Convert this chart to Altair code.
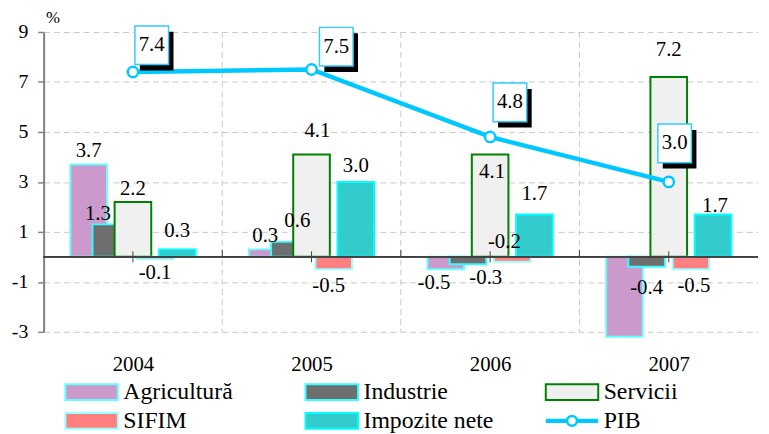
import altair as alt
import pandas as pd

# ---------------- data ----------------
years = ["2004", "2005", "2006", "2007"]
series = ["Agricultură", "Industrie", "Servicii", "SIFIM", "Impozite nete"]
agricultura = [3.7, 0.3, -0.5, -3.2]
industrie = [1.3, 0.6, -0.3, -0.4]
servicii = [2.2, 4.1, 4.1, 7.2]
sifim = [-0.1, -0.5, -0.2, -0.5]
impozite = [0.3, 3.0, 1.7, 1.7]
pib = [7.4, 7.5, 4.8, 3.0]
y_ticks = [-3, -1, 1, 3, 5, 7, 9]

# ---------------- style / layout ----------------
FONT = "'Liberation Serif', 'DejaVu Serif', serif"
fills = {"Agricultură": "#cc99cc", "Industrie": "#6e6e6e", "Servicii": "#f0f0f0",
         "SIFIM": "#ff8080", "Impozite nete": "#33cccc"}
strokes = {"Agricultură": "#66ffff", "Industrie": "#33ffff", "Servicii": "#008000",
           "SIFIM": "#99ffff", "Impozite nete": "#00ffff"}
PIB_COLOR = "#00c8ff"
STEP = 0.124   # offset between series within a category (fraction of band)
BW = 0.205     # bar width (fraction of band)
W, H = 722, 303
X_DOM = [-0.5, len(years) - 0.5]
Y_DOM = [-3, 9]
UX = (X_DOM[1] - X_DOM[0]) / W   # data units per pixel
UY = (Y_DOM[1] - Y_DOM[0]) / H

# label nudges in pixels (dx, dy; dy positive = down), per series, per year
label_nudge = {
    "Agricultură":   [(0, 0), (-2, 0), (-12, 0), (0, 0)],
    "Industrie":     [(-13, 3), (8, -8), (18, 0), (0, 7)],
    "Servicii":      [(0, 0), (6, -11), (2, 31), (0, -14)],
    "SIFIM":         [(0, 0), (-5, 3), (-8, -34), (3, 3)],
    "Impozite nete": [(0, -5), (0, -3), (0, -8), (2, 5)],
}
# PIB label box offsets from the points in pixels
pib_nudge = [(19, -27), (25, -23), (20, -35), (6, -39)]

rows = []
for k, (name, vals) in enumerate(zip(series, [agricultura, industrie, servicii, sifim, impozite])):
    for i, v in enumerate(vals):
        c = i + (k - 2) * STEP
        ndx, ndy = label_nudge[name][i]
        rows.append({"series": name, "xc": c, "x0": c - BW / 2, "x1": c + BW / 2,
                     "value": v, "label": f"{v:.1f}",
                     "lx": c + ndx * UX, "ly": v - ndy * UY})
bars = pd.DataFrame(rows)
pib_df = pd.DataFrame({"xi": list(range(len(years))), "value": pib,
                       "label": [f"{v:.1f}" for v in pib],
                       "bx": [i + pib_nudge[i][0] * UX for i in range(len(years))],
                       "by": [pib[i] - pib_nudge[i][1] * UY for i in range(len(years))]})
cat_df = pd.DataFrame({"xi": list(range(len(years)))})
bound_df = pd.DataFrame({"xb": [i + 0.5 for i in range(len(years) - 1)]})

xs = alt.Scale(domain=X_DOM, nice=False, zero=False)
ys = alt.Scale(domain=Y_DOM, nice=False, zero=False)

label_expr = "[" + ",".join(f"'{y}'" for y in years) + "][datum.value]"
x_axis = alt.Axis(values=list(range(len(years))), labelExpr=label_expr, domain=False,
                  ticks=False, grid=False, labelFontSize=21, labelPadding=22,
                  labelColor="black", title=None, orient="bottom", labelFont=FONT)
y_axis = alt.Axis(values=y_ticks, grid=True, gridDash=[6, 4], gridColor="#c8c8c8",
                  gridWidth=1, domainColor="#808080", domainWidth=2, tickColor="#808080",
                  tickWidth=1.5, tickSize=6, labelFontSize=20, labelPadding=10,
                  labelExpr="datum.value < 0 ? '-' + abs(datum.value) : '' + datum.value",
                  labelColor="black", labelFont=FONT, title="%", titleAngle=0, titleX=2, titleY=-6,
                  titleAlign="left", titleBaseline="bottom", titleFontSize=17, titleFont=FONT,
                  titleFontWeight="normal", titleColor="black")

vgrid = alt.Chart(bound_df).mark_rule(color="#c8c8c8", strokeDash=[6, 4], strokeWidth=1).encode(
    x=alt.X("xb:Q", scale=xs, axis=x_axis),
    y=alt.datum(9, scale=ys),
    y2=alt.datum(-3),
)

bar_layer = alt.Chart(bars).mark_rect(strokeWidth=2).encode(
    x=alt.X("x0:Q", scale=xs),
    x2="x1:Q",
    y=alt.Y("value:Q", scale=ys, axis=y_axis),
    y2=alt.datum(0),
    fill=alt.Fill("series:N", scale=alt.Scale(domain=series, range=[fills[s] for s in series]), legend=None),
    stroke=alt.Stroke("series:N", scale=alt.Scale(domain=series, range=[strokes[s] for s in series]), legend=None),
)

zero_line = alt.Chart(cat_df).mark_rule(color="#404040", strokeWidth=1.5).encode(
    y=alt.datum(0, scale=ys),
)
cat_ticks = alt.Chart(cat_df).mark_rule(color="#404040", strokeWidth=1).encode(
    x=alt.X("xi:Q", scale=xs),
    y=alt.datum(0.22, scale=ys),
    y2=alt.datum(-0.22),
)
bound_ticks = alt.Chart(bound_df).mark_rule(color="#404040", strokeWidth=1).encode(
    x=alt.X("xb:Q", scale=xs),
    y=alt.datum(0.28, scale=ys),
    y2=alt.datum(0),
)

pos_labels = alt.Chart(bars).transform_filter("datum.value >= 0").mark_text(
    baseline="bottom", dy=-3, fontSize=21, font=FONT, color="black").encode(
    x=alt.X("lx:Q", scale=xs), y=alt.Y("ly:Q", scale=ys), text="label:N")
neg_labels = alt.Chart(bars).transform_filter("datum.value < 0 && datum.value >= -3").mark_text(
    baseline="top", dy=3, fontSize=21, font=FONT, color="black").encode(
    x=alt.X("lx:Q", scale=xs), y=alt.Y("ly:Q", scale=ys), text="label:N")

pib_line = alt.Chart(pib_df).mark_line(color=PIB_COLOR, strokeWidth=4.5).encode(
    x=alt.X("xi:Q", scale=xs), y=alt.Y("value:Q", scale=ys))
pib_points = alt.Chart(pib_df).mark_point(shape="circle", size=110, filled=True, fill="white",
                                          stroke=PIB_COLOR, strokeWidth=2.5, opacity=1).encode(
    x=alt.X("xi:Q", scale=xs), y=alt.Y("value:Q", scale=ys))

BOX = "M-1,-1.15H1V1.15H-1Z"
pib_shadow = alt.Chart(pib_df).mark_point(shape=BOX, size=34 * 34, filled=True, fill="black",
                                          strokeWidth=0, opacity=1, xOffset=5, yOffset=6).encode(
    x=alt.X("bx:Q", scale=xs), y=alt.Y("by:Q", scale=ys))
pib_box = alt.Chart(pib_df).mark_point(shape=BOX, size=34 * 34, filled=True, fill="white",
                                       stroke="#33ccff", strokeWidth=1.5, opacity=1).encode(
    x=alt.X("bx:Q", scale=xs), y=alt.Y("by:Q", scale=ys))
pib_text = alt.Chart(pib_df).mark_text(fontSize=21, font=FONT, color="black",
                                       baseline="middle").encode(
    x=alt.X("bx:Q", scale=xs), y=alt.Y("by:Q", scale=ys), text="label:N")

main = alt.layer(vgrid, bar_layer, zero_line, cat_ticks, bound_ticks, pos_labels, neg_labels,
                 pib_line, pib_points, pib_shadow, pib_box, pib_text)

# ---------------- custom legend ----------------
leg_names = series + ["PIB"]
leg = pd.DataFrame({"name": leg_names,
                    "col": [i % 3 for i in range(len(leg_names))],
                    "row": [i // 3 for i in range(len(leg_names))]})
lxs = alt.Scale(domain=[0, 2], range=[48.5, 534])
lys = alt.Scale(domain=[0, 1], range=[364, 393])
SW = "M-1,-0.3H1V0.3H-1Z"

leg_sw = alt.Chart(leg).transform_filter("datum.name != 'PIB'").mark_point(
    shape=SW, size=53 * 53, filled=True, strokeWidth=2, opacity=1).encode(
    x=alt.X("col:Q", scale=lxs, axis=None),
    y=alt.Y("row:Q", scale=lys, axis=None),
    fill=alt.Fill("name:N", scale=alt.Scale(domain=series, range=[fills[s] for s in series]), legend=None),
    stroke=alt.Stroke("name:N", scale=alt.Scale(domain=series, range=[strokes[s] for s in series]), legend=None),
)
leg_line = alt.Chart(leg).transform_filter("datum.name == 'PIB'").mark_point(
    shape="M-1,0H1", size=53 * 53, filled=False, stroke=PIB_COLOR, strokeWidth=4.5, opacity=1).encode(
    x=alt.X("col:Q", scale=lxs, axis=None), y=alt.Y("row:Q", scale=lys, axis=None))
leg_pt = alt.Chart(leg).transform_filter("datum.name == 'PIB'").mark_point(
    shape="circle", size=100, filled=True, fill="white", stroke=PIB_COLOR, strokeWidth=2.5, opacity=1).encode(
    x=alt.X("col:Q", scale=lxs, axis=None), y=alt.Y("row:Q", scale=lys, axis=None))
leg_text = alt.Chart(leg).mark_text(align="left", baseline="middle", dx=32, fontSize=24,
                                    font=FONT, color="black").encode(
    x=alt.X("col:Q", scale=lxs, axis=None), y=alt.Y("row:Q", scale=lys, axis=None), text="name:N")

legend = alt.layer(leg_sw, leg_line, leg_pt, leg_text)

chart = alt.layer(main, legend).resolve_scale(
    x="independent", y="independent", fill="independent", stroke="independent"
).properties(
    width=W, height=H,
    autosize=alt.AutoSizeParams(type="none"),
    padding={"left": 36, "top": 22, "right": 3, "bottom": 100},
).configure_view(stroke=None).configure_axis(labelFont=FONT, titleFont=FONT).configure_text(font=FONT)

chart.save("out.html", embed_options={"renderer": "svg", "actions": False})
